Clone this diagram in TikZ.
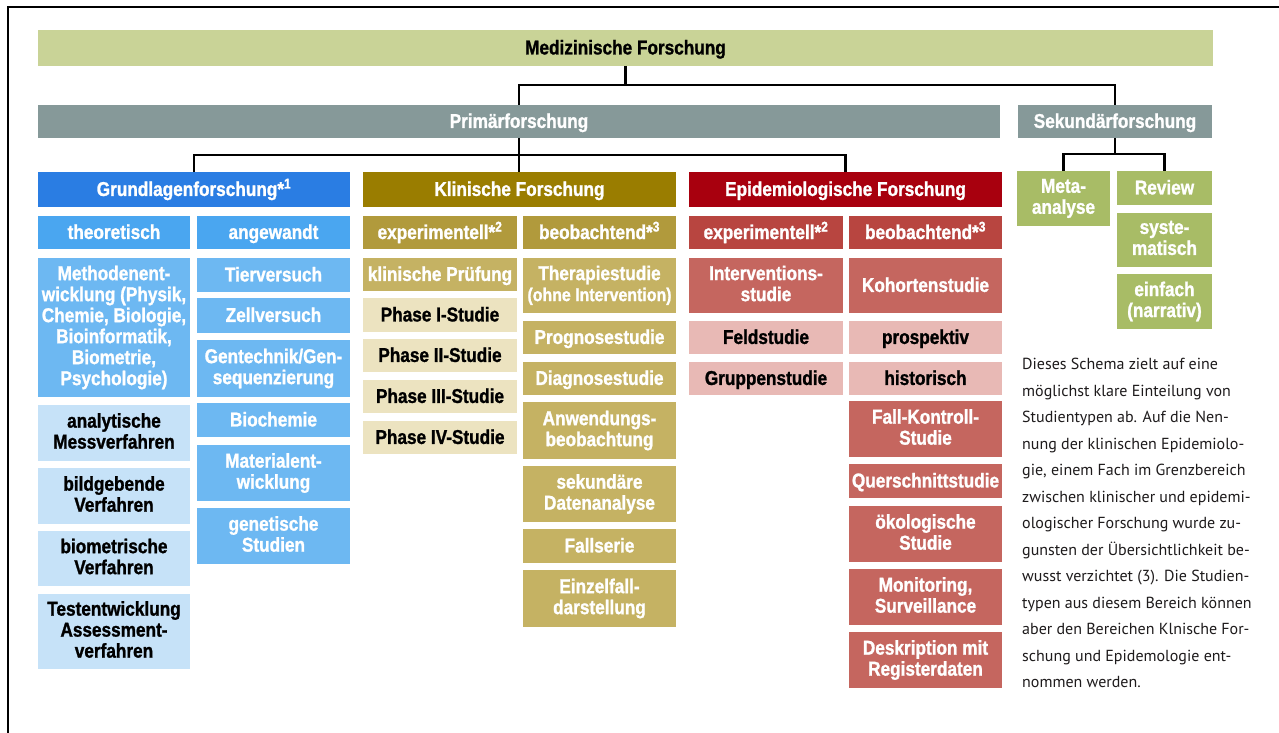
\documentclass[tikz,border=0pt]{standalone}
\usepackage{fontspec}
\newfontfamily\cnd{Liberation Sans}[FakeStretch=0.86,BoldFeatures={FakeBold=1.2}]
\newfontfamily\ptf{PT Sans}
\newcommand\bfnt{\cnd\bfseries\fontsize{20}{21}\selectfont}
\definecolor{medc}{HTML}{C9D397}
\definecolor{grayc}{HTML}{869999}
\definecolor{blA}{HTML}{2A7DE3}
\definecolor{blB}{HTML}{4AA6F0}
\definecolor{blC}{HTML}{6DB8F2}
\definecolor{blD}{HTML}{C6E2F8}
\definecolor{goA}{HTML}{9A7D00}
\definecolor{goB}{HTML}{B19A3C}
\definecolor{goC}{HTML}{C5B263}
\definecolor{goD}{HTML}{ECE3C0}
\definecolor{reA}{HTML}{A8000E}
\definecolor{reB}{HTML}{B84540}
\definecolor{reC}{HTML}{C5665F}
\definecolor{reD}{HTML}{E8B9B5}
\definecolor{grn}{HTML}{A8BC66}
\definecolor{txt}{HTML}{1E1B1C}
\newcommand\bx[7]{\node[box,#6,minimum width={#4-#2},minimum height={#5-#3}] (#1) at ({(#2+#4)/2},{(#3+#5)/2}) {#7};}
\begin{document}
\begin{tikzpicture}[x=1pt,y=-1pt,
  box/.style={inner sep=0pt,outer sep=0pt,align=center,font=\bfnt,
    execute at begin node={\vphantom{Äg}},execute at end node={\vphantom{g}}},
  wt/.style={text=white},
  bk/.style={text=black},
  conn/.style={line width=2.5pt,draw=black}]
\useasboundingbox (0,0) rectangle (1279,733);
\fill[white] (0,0) rectangle (1279,733);
\draw[line width=1.5pt] (7,7) -- (1279,7);
\draw[line width=1.2pt] (8,7) -- (8,733);
% top level
\bx{med}{38}{30}{1213}{66}{fill=medc,bk}{Medizinische Forschung}
\bx{prim}{38}{105}{1000}{138}{fill=grayc,wt}{Primärforschung}
\bx{sek}{1018}{105}{1212}{138}{fill=grayc,wt}{Sekundärforschung}
% Grundlagen
\bx{gl}{38}{172}{350}{207}{fill=blA,wt}{Grundlagenforschung*\textsuperscript{1}}
\bx{theo}{38}{216}{190}{249}{fill=blB,wt}{theoretisch}
\bx{angew}{197}{216}{350}{249}{fill=blB,wt}{angewandt}
\bx{meth}{38}{258}{190}{397}{fill=blC,wt}{Methodenent-\\wicklung (Physik,\\Chemie, Biologie,\\Bioinformatik,\\Biometrie,\\Psychologie)}
\bx{tier}{197}{258}{350}{292}{fill=blC,wt}{Tierversuch}
\bx{zell}{197}{298}{350}{333}{fill=blC,wt}{Zellversuch}
\bx{gent}{197}{340}{350}{397}{fill=blC,wt}{Gentechnik/Gen-\\sequenzierung}
\bx{bioc}{197}{403}{350}{437}{fill=blC,wt}{Biochemie}
\bx{mat}{197}{445}{350}{501}{fill=blC,wt}{Materialent-\\wicklung}
\bx{genet}{197}{508}{350}{564}{fill=blC,wt}{genetische\\Studien}
\bx{ana}{38}{405}{190}{461}{fill=blD,bk}{analytische\\Messverfahren}
\bx{bild}{38}{468}{190}{524}{fill=blD,bk}{bildgebende\\Verfahren}
\bx{biom}{38}{531}{190}{586}{fill=blD,bk}{biometrische\\Verfahren}
\bx{test}{38}{594}{190}{669}{fill=blD,bk}{Testentwicklung\\Assessment-\\verfahren}
% Klinische
\bx{kf}{363}{172}{676}{207}{fill=goA,wt}{Klinische Forschung}
\bx{kexp}{363}{216}{517}{249}{fill=goB,wt}{experimentell*\textsuperscript{2}}
\bx{kbeo}{523}{216}{676}{249}{fill=goB,wt}{beobachtend*\textsuperscript{3}}
\bx{kpr}{363}{258}{517}{291}{fill=goC,wt}{klinische Prüfung}
\bx{ph1}{363}{298}{517}{332}{fill=goD,bk}{Phase I-Studie}
\bx{ph2}{363}{339}{517}{372}{fill=goD,bk}{Phase II-Studie}
\bx{ph3}{363}{380}{517}{413}{fill=goD,bk}{Phase III-Studie}
\bx{ph4}{363}{421}{517}{454}{fill=goD,bk}{Phase IV-Studie}
\bx{ther}{523}{258}{676}{313}{fill=goC,wt}{Therapiestudie\\{\fontsize{18.5}{21}\selectfont(ohne Intervention)}}
\bx{prog}{523}{321}{676}{354}{fill=goC,wt}{Prognosestudie}
\bx{diag}{523}{362}{676}{395}{fill=goC,wt}{Diagnosestudie}
\bx{anw}{523}{402}{676}{459}{fill=goC,wt}{Anwendungs-\\beobachtung}
\bx{sekd}{523}{466}{676}{522}{fill=goC,wt}{sekundäre\\Datenanalyse}
\bx{falls}{523}{529}{676}{563}{fill=goC,wt}{Fallserie}
\bx{einz}{523}{570}{676}{627}{fill=goC,wt}{Einzelfall-\\darstellung}
% Epidemiologische
\bx{ef}{689}{172}{1002}{207}{fill=reA,wt}{Epidemiologische Forschung}
\bx{eexp}{689}{216}{843}{249}{fill=reB,wt}{experimentell*\textsuperscript{2}}
\bx{ebeo}{849}{216}{1002}{249}{fill=reB,wt}{beobachtend*\textsuperscript{3}}
\bx{int}{689}{258}{843}{313}{fill=reC,wt}{Interventions-\\studie}
\bx{koh}{849}{258}{1002}{313}{fill=reC,wt}{Kohortenstudie}
\bx{feld}{689}{321}{843}{354}{fill=reD,bk}{Feldstudie}
\bx{pros}{849}{321}{1002}{354}{fill=reD,bk}{prospektiv}
\bx{grup}{689}{362}{843}{395}{fill=reD,bk}{Gruppenstudie}
\bx{hist}{849}{362}{1002}{395}{fill=reD,bk}{historisch}
\bx{fk}{849}{401}{1002}{457}{fill=reC,wt}{Fall-Kontroll-\\Studie}
\bx{quer}{849}{464}{1002}{498}{fill=reC,wt}{Querschnittstudie}
\bx{oeko}{849}{506}{1002}{562}{fill=reC,wt}{ökologische\\Studie}
\bx{mon}{849}{569}{1002}{625}{fill=reC,wt}{Monitoring,\\Surveillance}
\bx{desk}{849}{632}{1002}{688}{fill=reC,wt}{Deskription mit\\Registerdaten}
% Sekundaer
\bx{meta}{1017}{171}{1110}{226}{fill=grn,wt}{Meta-\\analyse}
\bx{rev}{1117}{171}{1212}{205}{fill=grn,wt}{Review}
\bx{sys}{1117}{213}{1212}{267}{fill=grn,wt}{syste-\\matisch}
\bx{einf}{1117}{274}{1212}{329}{fill=grn,wt}{einfach\\(narrativ)}
% connectors
\draw[conn] (prim.north) -- ++(0,-20) coordinate (h1) -| (sek.north);
\draw[conn] (med.south) -- (med.south |- h1);
\draw[conn] (gl.north) -- ++(0,-17) coordinate (h2) -| (ef.north);
\draw[conn] (prim.south) -- (prim.south |- kf.north);
\draw[conn] (meta.north) -- ++(0,-17) coordinate (h3) -| (rev.north);
\draw[conn] (sek.south) -- (sek.south |- h3);
% paragraph
\node[anchor=north west,inner sep=0pt,align=left,text=txt,
  font={\ptf\fontsize{16}{26.5}\selectfont}] (para) at (1022,358) {%
Dieses Schema zielt auf eine\\
möglichst klare Einteilung von\\
Studientypen ab. Auf die Nen-\\
nung der klinischen Epidemiolo-\\
gie, einem Fach im Grenzbereich\\
zwischen klinischer und epidemi-\\
ologischer Forschung wurde zu-\\
gunsten der Übersichtlichkeit be-\\
wusst verzichtet (3). Die Studien-\\
typen aus diesem Bereich können\\
aber den Bereichen Klnische For-\\
schung und Epidemologie ent-\\
nommen werden.};
\end{tikzpicture}
\end{document}
